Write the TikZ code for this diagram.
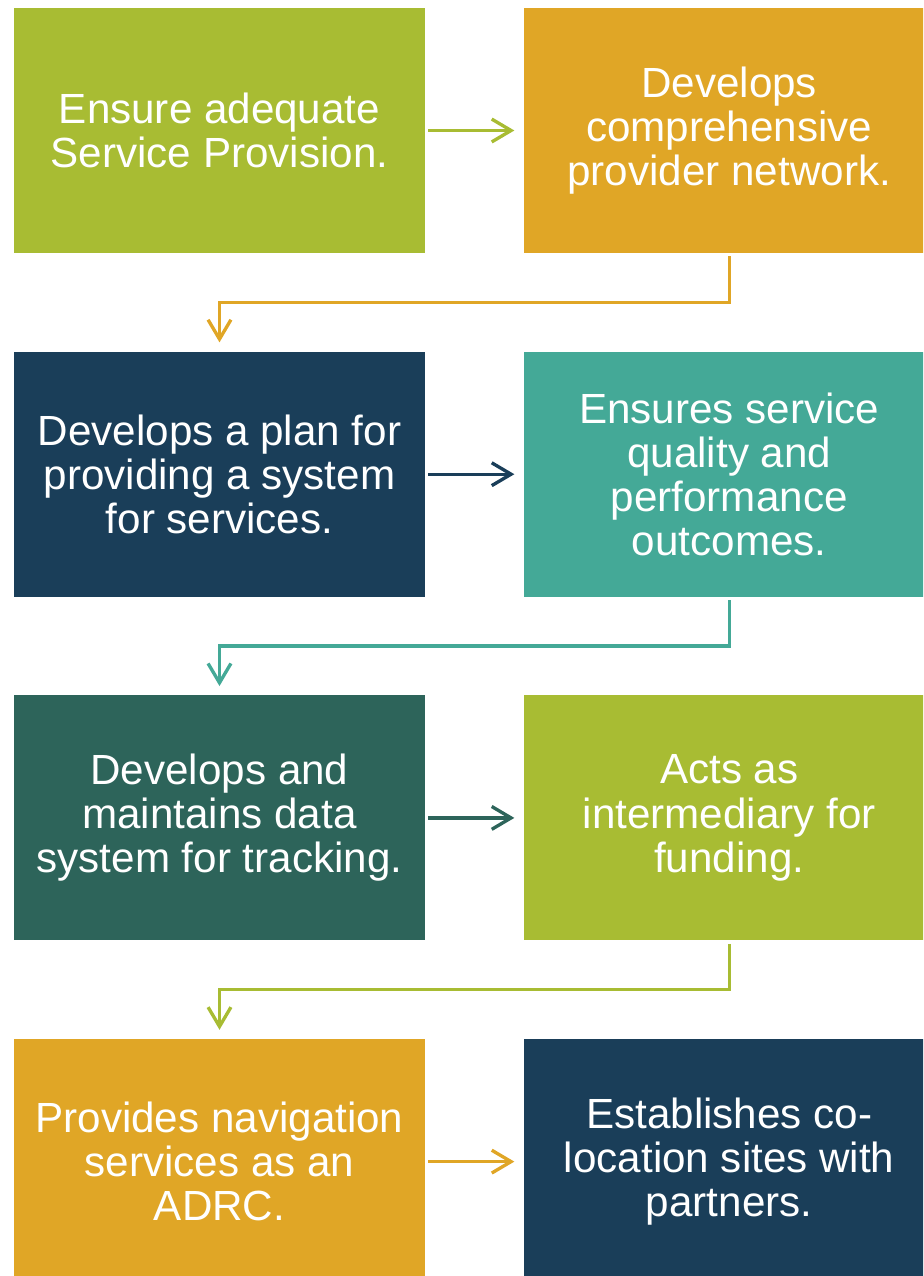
\documentclass[tikz,border=0pt]{standalone}
\usepackage{fontspec}
\setmainfont{Liberation Sans}
\usetikzlibrary{positioning,arrows.meta}

\definecolor{leaf}{HTML}{A8BC33}
\definecolor{gold}{HTML}{E0A626}
\definecolor{navy}{HTML}{1A3E59}
\definecolor{seafoam}{HTML}{44A997}
\definecolor{pine}{HTML}{2D645A}

\begin{document}
\begin{tikzpicture}[
    node distance=1.96cm,
    stepbox/.style={rectangle, minimum width=8.22cm, minimum height=4.9cm, inner sep=0pt, align=center, text=white, font=\fontsize{24}{25.1}\selectfont},
    arrow/.style={-{Straight Barb[length=11pt,width=13pt]}, line width=1.9pt, shorten <=0.06cm, shorten >=0.18cm}
]
\useasboundingbox (0,0) rectangle (18.46,-25.52);
\clip (0,0) rectangle (18.46,-25.52);

% Row 1
\node[stepbox, fill=leaf] (provision) at (4.39,-2.61) {Ensure adequate\\Service Provision.};
\node[stepbox, fill=gold, right=of provision] (network) {Develops\\comprehensive\\provider network.};

% Row 2
\node[stepbox, fill=navy, below=of provision] (plan) {Develops a plan for\\providing a system\\for services.};
\node[stepbox, fill=seafoam, right=of plan] (quality) {Ensures service\\quality and\\performance\\outcomes.};

% Row 3
\node[stepbox, fill=pine, below=of plan] (datasys) {Develops and\\maintains data\\system for tracking.};
\node[stepbox, fill=leaf, right=of datasys] (funding) {Acts as\\intermediary for\\funding.};

% Row 4
\node[stepbox, fill=gold, below=of datasys] (navigation) {Provides navigation\\services as an\\ADRC.};
\node[stepbox, fill=navy, right=of navigation] (colocation) {Establishes co-\\location sites with\\partners.};

% Row arrows
\draw[arrow, leaf] (provision) -- (network);
\draw[arrow, navy] (plan) -- (quality);
\draw[arrow, pine] (datasys) -- (funding);
\draw[arrow, gold] (navigation) -- (colocation);

% Elbow arrows between rows
\draw[arrow, gold] (network.south) -- ++(0,-0.98) -| (plan.north);
\draw[arrow, seafoam] (quality.south) -- ++(0,-0.98) -| (datasys.north);
\draw[arrow, leaf] (funding.south) -- ++(0,-0.98) -| (navigation.north);

\end{tikzpicture}
\end{document}
